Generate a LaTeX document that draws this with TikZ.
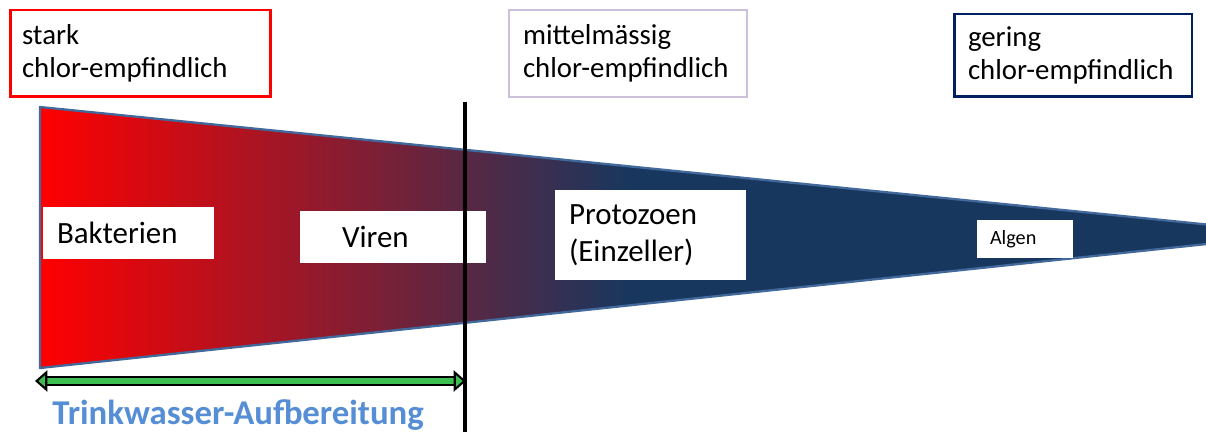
\documentclass[tikz,border=0pt]{standalone}
\usepackage{fontspec}
\setmainfont{Carlito}
\usetikzlibrary{arrows.meta}
\definecolor{starkrot}{RGB}{255,0,0}
\definecolor{mittellila}{RGB}{204,192,218}
\definecolor{geringblau}{RGB}{0,32,96}
\definecolor{keilblau}{RGB}{24,55,94}
\definecolor{keilrand}{RGB}{65,105,155}
\definecolor{pfeilgruen}{RGB}{60,190,80}
\definecolor{titelblau}{RGB}{85,142,213}
\tikzset{
  klasse/.style={draw, inner sep=0pt, minimum width=4.76cm, minimum height=1.74cm,
    text width=4.2cm, align=left, font=\fontsize{16.4}{19}\selectfont},
  erreger/.style={fill=white, inner sep=0pt, minimum height=1.04cm, align=left,
    font=\fontsize{17.6}{21}\selectfont},
}
\begin{document}
\begin{tikzpicture}[x=0.02cm,y=-0.02cm]
   \useasboundingbox (0,0) rectangle (1206,432);
   % Keil mit Farbverlauf
   \coordinate (ko) at (40,107);
   \coordinate (ku) at (40,368);
   \coordinate (ks) at (1301,234);
   \begin{scope}
    \clip (ko) -- (ks) -- (ku) -- cycle;
    \shade[left color=starkrot, right color=keilblau] (40,100) rectangle (630,375);
    \fill[keilblau] (629,100) rectangle (1310,375);
   \end{scope}
   \draw[keilrand, line width=1.3pt, line join=round] (ko) -- (ks) -- (ku) -- cycle;
   % Empfindlichkeit
   \node[klasse, draw=starkrot, line width=1.7pt, minimum width=5.22cm, text width=4.74cm] (stark) at (140.5,53.5) {stark\\chlor-empfindlich};
   \node[klasse, draw=mittellila, line width=1.4pt] (mittel) at (628,53.5) {mittelmässig\\chlor-empfindlich};
   \node[klasse, draw=geringblau, line width=1.7pt, minimum height=1.66cm] (gering) at (1073,55.5) {gering\\chlor-empfindlich};
   % Erreger
   \node[erreger, minimum width=3.42cm, text width=2.86cm] (bakterien) at (128.5,233) {Bakterien};
   \node[erreger, minimum width=3.72cm, text width=2.04cm] (viren) at (393,237) {Viren};
   \node[erreger, minimum width=3.82cm, minimum height=1.8cm, text width=3.26cm] (protozoen) at (650.5,235) {Protozoen\\(Einzeller)};
   \node[erreger, minimum width=1.92cm, minimum height=0.76cm, text width=1.4cm, font=\fontsize{11.5}{14}\selectfont] (algen) at (1025,239) {Algen};
   % Grenze
   \coordinate (go) at (465,102);
   \coordinate (gu) at (465,432);
   \draw[line width=2.3pt] (go) -- (gu);
   % Trinkwasser
   \coordinate (pl) at (35,381);
   \coordinate (pr) at (466,381);
   \draw[black, line width=1.2pt, double=pfeilgruen, double distance=3.4pt,
     {Triangle[length=7pt, width=12pt, fill=pfeilgruen]}-{Triangle[length=7pt, width=12pt, fill=pfeilgruen]}] (pl) -- (pr);
   \node[anchor=base west, inner sep=0pt, text=titelblau, font=\fontsize{19.8}{23}\selectfont\bfseries] (trinkwasser) at (52,424) {Trinkwasser-Aufbereitung};
\end{tikzpicture}
\end{document}
